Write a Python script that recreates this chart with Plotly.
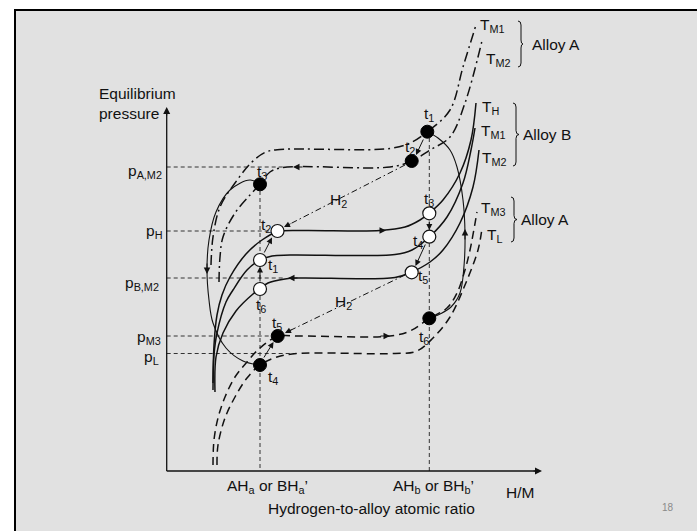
import plotly.graph_objects as go

W, H = 697, 531
FONT = "Arial, Liberation Sans, sans-serif"
INK = "#111111"
FS = 15.5

# ---------------- data (diagram coordinates) ----------------
# axis origin / tips
AX_X0, AX_Y0 = 166.7, 471.0
AX_XTIP, AX_YTIP = 542.0, 107.0

# characteristic compositions (x) and pressures (y)
x_a, x_b = 260.0, 429.3
p_levels = {"A,M2": 167.0, "H": 231.0, "B,M2": 278.0, "M3": 336.0, "L": 353.5}
p_ends = {"A,M2": 283.0, "H": 271.0, "B,M2": 285.0, "M3": 271.0, "L": 297.0}

# Alloy B isotherms (solid)
TH_B_x = [213, 214, 217, 222, 230, 246, 262, 277, 300, 380, 405, 420, 429.3, 443, 460, 471, 476]
TH_B_y = [383, 345, 315, 295, 277, 254, 240, 232, 230.5, 230.5, 227, 220, 213, 200, 173, 140, 103]
TM1_B_x = [213, 214, 217, 226, 233, 247, 260, 272, 290, 395, 412, 429.3, 447, 463, 471, 475]
TM1_B_y = [390, 355, 333, 302, 290, 270, 260, 256, 255, 254.5, 250, 237, 217, 183, 150, 128]
TM2_B_x = [215, 216, 223, 236, 253, 260, 268, 285, 300, 395, 411.7, 430, 443, 460, 473, 479]
TM2_B_y = [392, 357, 333, 311, 294, 289, 283, 279, 278, 277.5, 272, 262, 250, 223, 187, 150]

# Alloy A isotherms, upper (dash-dot)
TM1_A_x = [211, 213, 220, 235, 252, 266, 280, 390, 410, 427.3, 450, 463, 476]
TM1_A_y = [265, 237, 207, 183, 162, 152, 149.5, 148.5, 143, 131.7, 110, 67, 25]
TM2_A_x = [219, 220, 223, 235, 250, 260, 270, 283, 390, 411.7, 430, 450, 465, 481.7]
TM2_A_y = [282, 257, 237, 213, 195, 184.3, 172, 167.5, 167, 161, 150, 137, 103, 42]

# Alloy A isotherms, lower (long dash)
TM3_A_x = [213, 214, 218, 225, 235, 247, 260, 277.7, 300, 390, 410, 429.3, 447, 457, 465, 470, 477]
TM3_A_y = [465, 440, 418, 397, 377, 362, 348, 336.5, 336, 336, 331, 318.3, 308, 293, 270, 250, 212]
TL_A_x = [217, 218, 225, 235, 247, 260, 277, 297, 395, 417, 433, 450, 465, 478, 482]
TL_A_y = [465, 445, 418, 397, 378, 365, 357, 353.5, 353.5, 351, 338, 317, 285, 250, 228]

# cycle paths of alloy A (thin solid)
loopL_x = [260, 250, 230, 216, 209, 207, 209, 213, 226, 243, 260]
loopL_y = [184.3, 180, 190, 212, 240, 270, 300, 323, 348, 361, 365]
loopR_x = [429.3, 440, 451, 460, 464, 465, 463, 457, 450, 438, 427.3]
loopR_y = [318.3, 314, 307, 293, 266, 233, 200, 167, 150, 138, 131.7]

# state points
black_x = [427.3, 411.7, 260, 260, 277.7, 429.3]
black_y = [131.7, 161, 184.3, 365, 336, 318.3]
black_lab = ["1", "2", "3", "4", "5", "6"]
black_lx = [429, 410, 262, 273, 277, 424]
black_ly = [114, 147, 172, 377, 323, 337]
open_x = [260, 277.5, 429.3, 429.3, 411.7, 260]
open_y = [260, 231, 213.3, 236.7, 272.3, 289]
open_lab = ["1", "2", "3", "4", "5", "6"]
open_lx = [273, 266, 429, 418, 423, 261]
open_ly = [265, 225, 199, 241, 276, 305]

# hydrogen transfer lines (tail -> tip)
h2_lines = [(405, 165, 284, 227), (405, 275, 285, 333)]
h2_lab_x = [338, 343]
h2_lab_y = [200, 302]

# short transition arrows between state points (tail -> tip)
step_arrows = [(424, 138, 416, 155), (429.3, 220, 429.3, 230), (426, 243, 415.5, 266),
               (260, 283, 260, 266.5), (263.5, 254, 272, 237.5), (263, 359, 273.5, 342)]
# direction markers on curves (tail -> tip)
flow_arrows = [(375, 230.5, 386, 230.5), (299, 278, 288, 278), (304, 167, 293, 167),
               (379, 336, 390, 336), (207, 262, 207, 274), (465, 241, 465, 229)]

# right-hand legend labels
iso_labels = [("T<sub>M1</sub>", 492, 25), ("T<sub>M2</sub>", 498, 59),
              ("T<sub>H</sub>", 490, 107), ("T<sub>M1</sub>", 493, 131), ("T<sub>M2</sub>", 494, 158),
              ("T<sub>M3</sub>", 493, 208), ("T<sub>L</sub>", 495, 235)]
braces = [(518, 21, 67, 523), (513, 103, 166, 519), (511, 197, 242, 517)]
brace_text = ["Alloy A", "Alloy B", "Alloy A"]

# ---------------- figure ----------------
fig = go.Figure()

def curve(xs, ys, dash="solid", width=1.5):
    fig.add_trace(go.Scatter(x=xs, y=ys, mode="lines", hoverinfo="skip",
                             line=dict(color=INK, width=width, dash=dash, shape="spline", smoothing=1.0)))

def seg(x0, y0, x1, y1, dash="solid", width=1.0, color=INK):
    fig.add_trace(go.Scatter(x=[x0, x1], y=[y0, y1], mode="lines", hoverinfo="skip",
                             line=dict(color=color, width=width, dash=dash)))

annotations = []

def head(x0, y0, x1, y1, size=1.3):
    annotations.append(dict(x=x1, y=y1, ax=x0, ay=y0, xref="x", yref="y", axref="x", ayref="y",
                            text="", showarrow=True, arrowhead=2, arrowsize=size, arrowwidth=1,
                            arrowcolor=INK, standoff=0))

def label(text, x, y, size=FS, xanchor="center", color=INK, align="center"):
    annotations.append(dict(x=x, y=y, xref="x", yref="y", text=text, showarrow=False,
                            xanchor=xanchor, yanchor="middle", align=align,
                            font=dict(family=FONT, size=size, color=color)))

REF = "#333333"
# reference dashed lines
for k, py in p_levels.items():
    seg(AX_X0, py, p_ends[k], py, dash="4px,3px", width=1, color=REF)
seg(x_a, 191, x_a, AX_Y0, dash="4px,3px", width=1, color=REF)
seg(x_b, 138, x_b, AX_Y0, dash="4px,3px", width=1, color=REF)

# axes
seg(AX_X0, AX_Y0, AX_X0, AX_YTIP + 4, width=1.3)
seg(AX_X0, AX_Y0, AX_XTIP - 4, AX_Y0, width=1.3)
head(AX_X0, AX_YTIP + 10, AX_X0, AX_YTIP, 1.4)
head(AX_XTIP - 10, AX_Y0, AX_XTIP, AX_Y0, 1.4)

# isotherms
curve(TH_B_x, TH_B_y)
curve(TM1_B_x, TM1_B_y)
curve(TM2_B_x, TM2_B_y)
DD = "10px,4px,2px,4px"
curve(TM1_A_x, TM1_A_y, dash=DD)
curve(TM2_A_x, TM2_A_y, dash=DD)
curve(TM3_A_x, TM3_A_y, dash="8px,5px")
curve(TL_A_x, TL_A_y, dash="8px,5px")
curve(loopL_x, loopL_y, width=1.1)
curve(loopR_x, loopR_y, width=1.1)

# hydrogen transfer
for (x0, y0, x1, y1) in h2_lines:
    seg(x0, y0, x1 + 4, y1 - 2, dash="6px,3px,1.5px,3px", width=1)
    head(x1 + 8, y1 - 4, x1, y1, 1.2)
for xx, yy in zip(h2_lab_x, h2_lab_y):
    label("H<sub>2</sub>", xx, yy)

for a in step_arrows:
    head(*a, size=1.2)
for a in flow_arrows:
    head(*a, size=1.3)

# state points
fig.add_trace(go.Scatter(x=black_x, y=black_y, mode="markers", hoverinfo="skip",
                         marker=dict(size=13, color="black", line=dict(color="black", width=1))))
fig.add_trace(go.Scatter(x=open_x, y=open_y, mode="markers", hoverinfo="skip",
                         marker=dict(size=13, color="white", line=dict(color=INK, width=1.2))))
for n, xx, yy in zip(black_lab, black_lx, black_ly):
    label("t<sub>%s</sub>" % n, xx, yy)
for n, xx, yy in zip(open_lab, open_lx, open_ly):
    label("t<sub>%s</sub>" % n, xx, yy)

# pressure labels
p_lab_x = {"A,M2": 164, "H": 164, "B,M2": 161, "M3": 163, "L": 161}
p_lab_dy = {"A,M2": 4, "H": 0, "B,M2": 5, "M3": 1, "L": 4}
for k, py in p_levels.items():
    label("p<sub>%s</sub>" % k, p_lab_x[k], py + p_lab_dy[k], xanchor="right")

label("Equilibrium<br>pressure", 97, 103, xanchor="left", align="left")
label("AH<sub>a</sub> or BH<sub>a</sub>\u2019", 267, 486)
label("AH<sub>b</sub> or BH<sub>b</sub>\u2019", 433, 486)
label("H/M", 520, 492)
label("Hydrogen-to-alloy atomic ratio", 371, 508)
label("18", 668, 507, size=10, color="#8a8a8a")

for t, xx, yy in iso_labels:
    label(t, xx, yy)

shapes = [
    dict(type="rect", x0=15, x1=W + 2, y0=10, y1=H + 2, xref="x", yref="y",
         fillcolor="#e1e1e1", line=dict(width=0), layer="below"),
    dict(type="line", x0=14, x1=W + 2, y0=10, y1=10, xref="x", yref="y",
         line=dict(color="black", width=2), layer="below"),
    dict(type="line", x0=15, x1=15, y0=9, y1=H + 2, xref="x", yref="y",
         line=dict(color="black", width=2), layer="below"),
]
for (x0, yt, yb, xt), t in zip(braces, brace_text):
    x1 = x0 + 3
    ym = (yt + yb) / 2
    r = 4
    path = (f"M {x0},{yt} Q {x1},{yt} {x1},{yt + r} L {x1},{ym - r} "
            f"Q {x1},{ym} {xt},{ym} Q {x1},{ym} {x1},{ym + r} L {x1},{yb - r} "
            f"Q {x1},{yb} {x0},{yb}")
    shapes.append(dict(type="path", path=path, xref="x", yref="y",
                       line=dict(color=INK, width=1)))
    label(t, xt + (7 if t == "Alloy A" and yt < 50 else 2), ym, xanchor="left")

fig.update_layout(
    width=W, height=H, margin=dict(l=0, r=0, t=0, b=0),
    paper_bgcolor="white", plot_bgcolor="white", showlegend=False,
    xaxis=dict(range=[0, W], visible=False, fixedrange=True),
    yaxis=dict(range=[H, 0], visible=False, fixedrange=True),
    shapes=shapes, annotations=annotations,
)
fig.write_html("out.html", config={"displayModeBar": False},
               post_script="document.body.style.margin='0';document.body.style.overflow='hidden';")
